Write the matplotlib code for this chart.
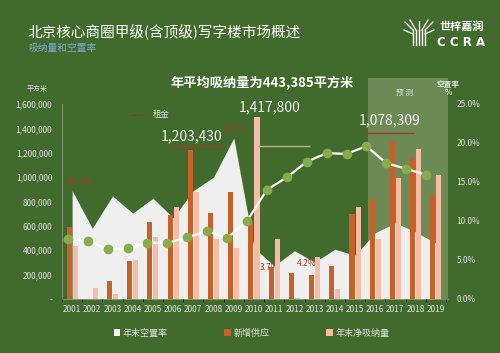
import matplotlib
matplotlib.use('Agg')
import matplotlib.pyplot as plt
import numpy as np
from matplotlib.patches import Patch, Rectangle
from matplotlib.lines import Line2D
import matplotlib.transforms as mtransforms
from matplotlib.ticker import FuncFormatter

plt.rcParams['font.family'] = ['Noto Sans CJK SC', 'DejaVu Sans']

# ---------------- data ----------------
years = ['2001', '2002', '2003', '2004', '2005', '2006', '2007', '2008', '2009', '2010',
         '2011', '2012', '2013', '2014', '2015', '2016', '2017', '2018', '2019']
supply = [593000, 0, 145000, 312000, 632000, 692000, 1225000, 703000, 880000, 634000,
          265000, 211000, 197000, 271000, 697000, 818000, 1299000, 1159000, 853000]
absorption = [435000, 93000, 41000, 320000, 506000, 752000, 880000, 492000, 421000, 1495000,
              490000, 10000, 342000, 80000, 757000, 490000, 990000, 1228000, 1017000]
vacancy = [7.7, 7.4, 6.4, 6.5, 7.2, 7.2, 7.9, 8.7, 7.8, 10.0,
           14.0, 15.6, 17.6, 18.7, 18.6, 19.6, 17.4, 16.7, 15.9]
rent = [13.7, 8.7, 13.0, 10.7, 12.7, 10.1, 13.7, 15.5, 20.7, 6.1,
        3.7, 5.7, 4.2, 5.9, 5.1, 8.1, 9.4, 8.2, 6.7]
rent_label_idx = [0, 8, 10, 12]
forecast_years = ['2017', '2018', '2019']
callout_texts = ['1,203,430', '1,417,800', '1,078,309']
avg_text = '年平均吸纳量为443,385平方米'

# ---------------- style ----------------
BG = '#416b2c'
ORANGE = '#c6612a'
PINK = '#f6bda6'
AREA = '#efefef'
DOT = '#8aab4c'
TXT = '#e2e2e2'
SPINE = '#7f9870'
RED = '#a83a2c'

fig = plt.figure(figsize=(5, 3.53), dpi=100, facecolor=BG)
rect = [0.124, 0.153, 0.772, 0.5524]
ax_area = fig.add_axes(rect, zorder=0)
ax = fig.add_axes(rect, zorder=1, sharex=ax_area)
ax2 = fig.add_axes(rect, zorder=2, sharex=ax_area)
for a in (ax_area, ax, ax2):
    a.patch.set_visible(False)

n = len(years)
x = np.arange(n)
XLIM = (-0.5, 18.6)
RENT_LIM = (-0.72, 25.23)

# forecast band
fc_start = years.index(forecast_years[0]) - 1.37
band = Rectangle((fc_start, 0), XLIM[1] - fc_start, 1.133,
                 transform=mtransforms.blended_transform_factory(ax_area.transData, ax_area.transAxes),
                 facecolor='#6c8a55', edgecolor='none', clip_on=False, zorder=0)
ax_area.add_patch(band)

# rent area
ax_area.fill_between(x, rent, RENT_LIM[0], color=AREA, lw=0, zorder=1)
ax_area.set_ylim(*RENT_LIM)
ax_area.set_xlim(*XLIM)
ax_area.axis('off')
offs = {0: (5, 3), 8: (1, 3), 10: (-3, -1), 12: (-6, -1)}
for i in rent_label_idx:
    ax_area.annotate(f'{rent[i]:.1f}%', (x[i], rent[i]), xytext=offs[i], textcoords='offset points',
                     ha='center', va='bottom' if i in (0, 8) else 'center',
                     fontsize=6, color=RED, zorder=2)
ax_area.legend(handles=[Line2D([], [], color='#8b3a28', lw=0.8)], labels=['租金'],
               loc='center left', bbox_to_anchor=(124 / 500, 1 - 115 / 353),
               bbox_transform=fig.transFigure, frameon=False, fontsize=6,
               labelcolor=TXT, handlelength=1.4, handletextpad=1.2)

# bars
bw = 0.25
ax.bar(x - 0.15, supply, bw, color=ORANGE, zorder=2)
ax.bar(x + 0.15, absorption, bw, color=PINK, zorder=2)
ax.set_ylim(0, 1600000)
ax.set_xlim(*XLIM)
ax.set_yticks(np.arange(0, 1600001, 200000))
ax.yaxis.set_major_formatter(FuncFormatter(lambda v, p: f'{v:,.0f}' if v else '-'))
ax.set_xticks(x)
ax.set_xticklabels(years)
ax.set_xticks(np.arange(-0.5, n, 1.0), minor=True)
ax.tick_params(axis='y', length=0, labelsize=6, colors=TXT, pad=7)
ax.tick_params(axis='x', which='major', length=0, labelsize=6, colors=TXT, pad=4)
ax.tick_params(axis='x', which='minor', length=3, color=SPINE, width=0.6)
for s in ('top', 'right'):
    ax.spines[s].set_visible(False)
for s in ('left', 'bottom'):
    ax.spines[s].set_color(SPINE)
    ax.spines[s].set_linewidth(0.7)

# callouts
callout_pos = [(5.93, 1337000), (9.78, 1575000), (15.71, 1469000)]
callout_lines = [((4.84, 7.41), 1258000, RED), ((9.14, 11.76), 1255000, '#c8ab90'),
                 ((14.38, 16.9), 1365000, RED)]
for t, (cx, cy) in zip(callout_texts, callout_pos):
    ax.text(cx, cy, t, ha='center', va='center', fontsize=10, color='#f4f4f4', zorder=5)
for (x0, x1), yy, c in callout_lines:
    ax.plot([x0, x1], [yy, yy], color=c, lw=1.0, zorder=5, solid_capstyle='butt')

# vacancy line (right axis)
ax2.plot(x * 0.985 - 0.21, vacancy, color='white', lw=1.6, marker='o', ms=6,
         mfc=DOT, mec=DOT, zorder=4)
ax2.set_ylim(0, 25)
ax2.set_yticks(np.arange(0, 26, 5))
ax2.yaxis.set_major_formatter(FuncFormatter(lambda v, p: f'{v:.1f}%'))
ax2.yaxis.tick_right()
ax2.tick_params(axis='y', length=0, labelsize=6, colors=TXT, pad=6)
ax2.tick_params(axis='x', bottom=False, labelbottom=False)
for s in ax2.spines.values():
    s.set_visible(False)

# ---------------- texts ----------------
fig.text(27 / 500, 1 - 32 / 353, '北京核心商圈甲级(含顶级)写字楼市场概述', fontsize=10.5,
         color='white', va='center', ha='left')
fig.text(28 / 500, 1 - 48 / 353, '吸纳量和空置率', fontsize=7, color='#7aaad6', va='center', ha='left')
fig.text(262 / 500, 1 - 83 / 353, avg_text, fontsize=9.5, fontweight='bold', color='white',
         va='center', ha='center')
fig.text(27 / 500, 1 - 89 / 353, '平方米', fontsize=5, color=TXT, va='center', ha='left')
fig.text(448 / 500, 1 - 84 / 353, '空置率', fontsize=5.5, color=TXT, va='center', ha='center',
         fontweight='bold')
fig.text(448 / 500, 1 - 92.5 / 353, '%', fontsize=5.5, color=TXT, va='center', ha='center',
         fontweight='bold')
fig.text(404 / 500, 1 - 93 / 353, '预 测', fontsize=5.5, color=TXT, va='center', ha='center')

# logo
fig.text(462 / 500, 1 - 26 / 353, '世梓嘉润', fontsize=8, color='white', va='center', ha='center',
         fontweight='bold')
fig.text(461 / 500, 1 - 42 / 353, 'C C R A', fontsize=8.5, color='white', va='center', ha='center',
         fontweight='bold', family='DejaVu Sans')
for px in (413, 416, 419, 422, 425):
    fig.add_artist(Line2D([px / 500, px / 500], [1 - 45 / 353, 1 - 30 / 353],
                          color='white', lw=1.0, transform=fig.transFigure))
for (xa, ya, xb, yb) in [(413, 30, 405, 22), (416, 30, 410, 20), (422, 30, 428, 20),
                         (425, 30, 433, 22), (419, 30, 419, 21), (413, 34, 404, 30),
                         (425, 34, 434, 30)]:
    fig.add_artist(Line2D([xa / 500, xb / 500], [1 - ya / 353, 1 - yb / 353],
                          color='white', lw=0.9, transform=fig.transFigure))

# bottom legend
fig.legend(handles=[Patch(fc='white', ec='none'), Patch(fc=ORANGE, ec='none'), Patch(fc=PINK, ec='none')],
           labels=['年末空置率', '新增供应', '年末净吸纳量'], ncol=3, loc='center',
           bbox_to_anchor=(0.503, 1 - 333 / 353), frameon=False, fontsize=6.5,
           labelcolor=TXT, handlelength=0.7, handleheight=0.7, handletextpad=0.3,
           columnspacing=6.3)

fig.savefig('out.png', dpi=100, facecolor=BG)
